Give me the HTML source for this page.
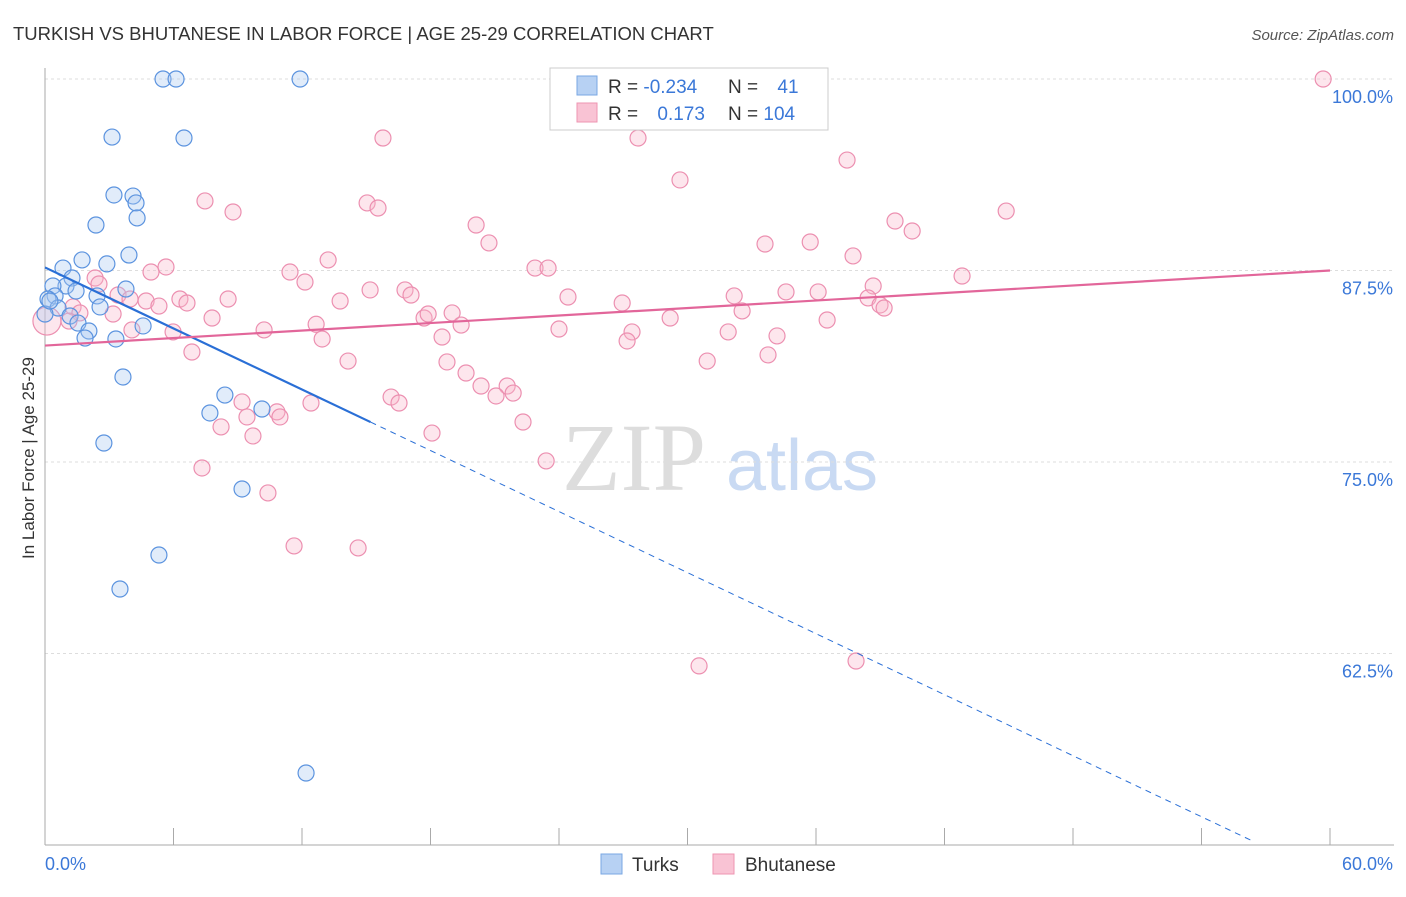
<!DOCTYPE html>
<html><head><meta charset="utf-8"><style>
body{margin:0;background:#fff;font-family:"Liberation Sans",sans-serif;}
</style></head><body>
<svg id="c" width="1406" height="892" xmlns="http://www.w3.org/2000/svg" style="font-family:'Liberation Sans',sans-serif">
<text x="13" y="40" font-size="18.5" fill="#333">TURKISH VS BHUTANESE IN LABOR FORCE | AGE 25-29 CORRELATION CHART</text>
<text x="1394" y="40" font-size="15" fill="#555" font-style="italic" text-anchor="end">Source: ZipAtlas.com</text>
<text x="34" y="458" font-size="17" fill="#333" text-anchor="middle" transform="rotate(-90 34 458)">In Labor Force | Age 25-29</text>
<g><text x="634" y="490" font-size="96" fill="#ddd" font-family="Liberation Serif" text-anchor="middle">ZIP</text><text x="802" y="490" font-size="72" fill="#c9daf3" text-anchor="middle">atlas</text></g>
<g id="grid"></g><g id="marks"></g>
<g>
<rect x="550" y="68" width="278" height="62" fill="#fff" stroke="#ccc"/>
<rect x="577" y="76" width="20" height="19" fill="#b7d1f3" stroke="#7aa7e3"/>
<rect x="577" y="103" width="20" height="19" fill="#f9c3d4" stroke="#ee94b2"/>
<text x="608" y="93" font-size="19" fill="#333">R = <tspan fill="#3b78d8">-0.234</tspan></text>
<text x="728" y="93" font-size="19" fill="#333">N = <tspan fill="#3b78d8" dx="14">41</tspan></text>
<text x="608" y="120" font-size="19" fill="#333">R = <tspan fill="#3b78d8" dx="14">0.173</tspan></text>
<text x="728" y="120" font-size="19" fill="#333">N = <tspan fill="#3b78d8">104</tspan></text>
</g>
<g>
<rect x="601" y="854" width="21" height="20" fill="#b7d1f3" stroke="#7aa7e3"/>
<text x="632" y="871" font-size="19" fill="#333">Turks</text>
<rect x="713" y="854" width="21" height="20" fill="#f9c3d4" stroke="#ee94b2"/>
<text x="745" y="871" font-size="19" fill="#333">Bhutanese</text>
</g>
</svg>
<script>
const yTicks=[100,87.5,75,62.5];
const yTickLabels=["100.0%","87.5%","75.0%","62.5%"];
const xTickLabels=["0.0%","60.0%"];
const turksX=[5.51,6.12,11.91,3.13,6.49,3.22,4.11,4.25,4.30,2.38,3.92,1.73,2.89,0.84,1.26,0.98,0.37,1.45,3.78,2.43,0.47,0.14,2.57,0.61,1.17,1.54,2.05,4.58,1.87,3.31,3.64,8.40,7.70,10.13,2.75,9.20,5.32,3.50,12.19,0,0.23];
const turksY=[100,100,100,96.21,96.15,92.43,92.36,91.91,90.93,90.47,88.51,88.19,87.93,87.66,87.01,86.49,86.49,86.16,86.29,85.84,85.84,85.64,85.12,85.05,84.53,84.07,83.55,83.88,83.09,83.03,80.55,79.37,78.20,78.46,76.24,73.24,68.93,66.71,54.70,84.66,85.51];
const bhuX=[59.68,15.78,27.69,37.45,29.65,7.47,15.04,15.55,8.78,39.69,20.13,44.88,40.49,20.73,33.62,35.73,37.73,13.22,22.88,23.49,5.65,4.95,11.44,42.82,12.14,15.18,16.81,17.09,6.30,4.72,8.55,13.78,24.42,26.95,32.18,34.60,36.10,38.67,38.43,38.99,39.18,2.34,2.52,3.41,3.97,5.32,6.63,3.18,1.31,1.63,1.12,7.80,17.70,19.01,19.43,17.89,29.19,32.55,36.52,12.66,10.23,4.06,5.98,18.54,12.94,24.00,27.41,27.18,31.90,34.18,6.86,14.15,30.92,33.76,18.77,19.66,20.36,21.58,21.86,21.06,16.16,16.53,9.20,12.42,10.83,10.97,9.43,8.22,9.71,18.07,22.32,23.40,7.33,10.41,11.63,14.62,30.54,37.87,0.09];
const bhuY=[100,96.15,96.15,94.71,93.41,92.04,91.91,91.58,91.32,90.73,90.47,91.38,90.08,89.30,89.23,89.36,88.45,88.19,87.66,87.66,87.73,87.40,87.40,87.14,86.75,86.23,86.23,85.90,85.64,85.51,85.64,85.51,85.77,85.38,85.84,86.10,86.10,86.49,85.71,85.25,85.05,87.01,86.62,85.90,85.64,85.18,85.38,84.66,85.12,84.73,84.20,84.40,84.40,84.73,83.94,84.66,84.40,84.86,84.27,83.99,83.62,83.62,83.49,83.16,83.03,83.68,83.49,82.90,83.49,83.23,82.18,81.59,81.59,81.99,81.53,80.81,79.96,79.96,79.50,79.31,79.24,78.85,78.92,78.85,78.27,77.94,77.94,77.29,76.70,76.89,77.61,75.07,74.61,72.98,69.52,69.39,61.69,62.01,84.20];
const turksLine=[87.7,-0.664];
const bhuLine=[82.6,0.0817];
const X=v=>45+v/60*1285, Y=v=>79+(100-v)*15.32;
const NS="http://www.w3.org/2000/svg";
function mk(t,a,p){const e=document.createElementNS(NS,t);for(const k in a)e.setAttribute(k,a[k]);p.appendChild(e);return e;}
const g=document.getElementById('grid'), m=document.getElementById('marks');
yTicks.forEach((t,i)=>{
 const l=mk('line',{x1:45,x2:1394,y1:Y(t),y2:Y(t),stroke:'#ddd','stroke-dasharray':'3,3'},g);
 
 const tx=mk('text',{x:1393,y:Y(t)+24,'font-size':18,fill:'#3b78d8','text-anchor':'end'},g);tx.textContent=yTickLabels[i];
 
});
const ax=mk('line',{x1:45,x2:1394,y1:845,y2:845,stroke:'#aaa'},g);
const ay=mk('line',{x1:45,x2:45,y1:68,y2:845,stroke:'#aaa'},g);
for(let i=0;i<=10;i++){const t=mk('line',{x1:X(i*6),x2:X(i*6),y1:828,y2:845,stroke:'#aaa'},g);}
[[0,45,'start'],[60,1393,'end']].forEach((d,i)=>{const t=mk('text',{x:d[1],y:870,'font-size':18,fill:'#3b78d8','text-anchor':d[2]},g);t.textContent=xTickLabels[i];});
function pts(xs,ys,fill,stroke,name){xs.forEach((x,i)=>{const c=mk('circle',{cx:X(x),cy:Y(ys[i]),r:(name=='bhutanese-point'&&i==xs.length-1)?14:8,fill:fill,'fill-opacity':0.35,stroke:stroke,'stroke-width':1.2},m);
 });}
pts(bhuX,bhuY,'#f9b8cc','#ec8fb0','bhutanese-point');
pts(turksX,turksY,'#a9c8f0','#5b93df','turks-point');
const b1=mk('line',{x1:X(0),y1:Y(turksLine[0]),x2:X(15.2),y2:Y(turksLine[0]+turksLine[1]*15.2),stroke:'#2a6fd6','stroke-width':2.2},m);

const b2=mk('line',{x1:X(15.2),y1:Y(turksLine[0]+turksLine[1]*15.2),x2:X(56.3),y2:Y(turksLine[0]+turksLine[1]*56.3),stroke:'#2a6fd6','stroke-width':1,'stroke-dasharray':'6,5'},m);

const p1=mk('line',{x1:X(0),y1:Y(bhuLine[0]),x2:X(60),y2:Y(bhuLine[0]+bhuLine[1]*60),stroke:'#e2669a','stroke-width':2.2},m);

</script>
</body></html>
